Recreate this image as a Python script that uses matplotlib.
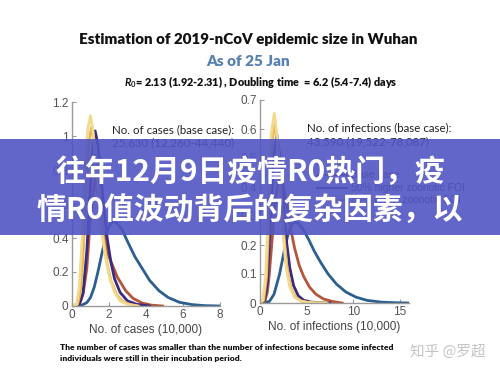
import matplotlib
matplotlib.use("Agg")
import matplotlib.pyplot as plt
from matplotlib.patches import Rectangle
from matplotlib.lines import Line2D

plt.rcParams['font.family'] = ['Liberation Sans', 'DejaVu Sans']
plt.rcParams['mathtext.fontset'] = 'custom'
plt.rcParams['mathtext.it'] = 'Lato:italic:bold'
plt.rcParams['mathtext.rm'] = 'Lato:bold'

# ---- data (x in units of 10,000) ----
# left panel: number of cases
cases_pale_x = [0, 0.25, 0.4, 0.55, 0.7, 0.85, 1.0, 1.15, 1.3, 1.45, 1.65, 1.85, 2.05, 2.3, 2.6, 3.0, 3.5]
cases_pale_y = [0, 0.01, 0.12, 0.4, 0.78, 1.04, 1.12, 1.02, 0.82, 0.6, 0.4, 0.26, 0.16, 0.08, 0.03, 0.01, 0]
cases_gold_x = [0, 0.3, 0.45, 0.6, 0.75, 0.9, 1.05, 1.2, 1.35, 1.5, 1.7, 1.9, 2.1, 2.4, 2.7, 3.1, 3.6]
cases_gold_y = [0, 0.01, 0.08, 0.3, 0.65, 0.95, 1.05, 0.97, 0.8, 0.6, 0.4, 0.25, 0.15, 0.07, 0.03, 0.01, 0]
cases_indigo_x = [0, 0.4, 0.6, 0.8, 0.95, 1.1, 1.25, 1.4, 1.55, 1.7, 1.9, 2.1, 2.3, 2.6, 3.0, 3.5, 4.2]
cases_indigo_y = [0, 0.01, 0.08, 0.32, 0.62, 0.9, 1.03, 0.95, 0.78, 0.6, 0.4, 0.26, 0.16, 0.08, 0.03, 0.01, 0]
cases_red_x = [0, 0.4, 0.6, 0.8, 1.0, 1.25, 1.45, 1.7, 2.0, 2.45, 2.9, 3.3, 3.8, 4.3, 4.9]
cases_red_y = [0, 0.01, 0.07, 0.22, 0.52, 0.76, 0.62, 0.42, 0.29, 0.17, 0.09, 0.045, 0.017, 0.005, 0]
cases_blue_x = [0, 0.5, 0.8, 1.0, 1.2, 1.4, 1.6, 1.8, 2.0, 2.2, 2.4, 2.7, 3.0, 3.4, 3.8, 4.2,
                4.7, 5.2, 5.8, 6.5, 7.2, 8.0]
cases_blue_y = [0, 0.003, 0.02, 0.05, 0.11, 0.2, 0.3, 0.4, 0.47, 0.5, 0.49, 0.45, 0.38, 0.29, 0.22, 0.15,
                0.09, 0.05, 0.022, 0.008, 0.002, 0]

# right panel: number of infections
inf_pale_x = [0, 0.3, 0.6, 0.9, 1.2, 1.53, 1.85, 2.2, 2.5, 2.8, 3.2, 3.7, 4.3, 5.0, 6.0, 7.0]
inf_pale_y = [0, 0.01, 0.09, 0.33, 0.58, 0.654, 0.57, 0.38, 0.23, 0.12, 0.055, 0.02, 0.007, 0.002, 0.0005, 0]
inf_gold_x = [0, 0.4, 0.7, 1.0, 1.3, 1.6, 1.95, 2.3, 2.6, 2.9, 3.3, 3.8, 4.4, 5.2, 6.2, 7.2]
inf_gold_y = [0, 0.01, 0.09, 0.33, 0.56, 0.62, 0.53, 0.36, 0.22, 0.12, 0.055, 0.02, 0.007, 0.002, 0.0005, 0]
inf_indigo_x = [0, 0.5, 0.8, 1.1, 1.45, 1.8, 2.15, 2.5, 2.85, 3.2, 3.6, 4.1, 4.7, 5.5, 6.5, 7.5]
inf_indigo_y = [0, 0.01, 0.07, 0.27, 0.5, 0.58, 0.5, 0.34, 0.21, 0.12, 0.06, 0.025, 0.009, 0.003, 0.001, 0]
inf_red_x = [0, 0.5, 0.8, 1.0, 1.3, 1.6, 2.0, 2.4, 2.8, 3.2, 3.7, 4.2, 4.7, 5.3, 6.0, 6.8, 7.8, 8.8]
inf_red_y = [0, 0.005, 0.04, 0.1, 0.22, 0.34, 0.43, 0.42, 0.35, 0.27, 0.19, 0.13, 0.09, 0.055, 0.03,
             0.014, 0.005, 0]
inf_blue_x = [0, 1.0, 1.5, 2.1, 2.6, 3.1, 3.6, 4.1, 4.6, 5.2, 5.8, 6.5, 7.3, 8.2, 9.2, 10.3, 11.5,
              13.0, 14.5, 16.0]
inf_blue_y = [0, 0.005, 0.03, 0.1, 0.18, 0.25, 0.28, 0.275, 0.255, 0.22, 0.18, 0.14, 0.1, 0.065, 0.038,
              0.02, 0.009, 0.003, 0.001, 0]

left_xticks = [0, 2, 4, 6, 8]
left_yticks = [0, 0.2, 0.4, 0.6, 0.8, 1, 1.2]
right_xticks = [0, 5, 10, 15]
right_yticks = [0, 0.1, 0.2, 0.3, 0.4, 0.5, 0.6, 0.7]

legend_labels = ["Base case", "50% higher zoonotic FOI", "50% lower zoonotic FOI"]

c_pale = '#F2D98E'
c_gold = '#E6B654'
c_red = '#B5553B'
c_indigo = '#3B2B80'
c_blue = '#2C5F8F'

fig = plt.figure(figsize=(5, 3.74), dpi=100)
W, H = 500, 374


def px_axes(x0, x1, y_top, y_bot):
    return fig.add_axes([x0 / W, 1 - y_bot / H, (x1 - x0) / W, (y_bot - y_top) / H])


def style(ax):
    for s in ['top', 'right']:
        ax.spines[s].set_visible(False)
    for s in ['left', 'bottom']:
        ax.spines[s].set_color('#9a9a9a')
        ax.spines[s].set_linewidth(1.0)
    ax.tick_params(direction='in', length=3, width=0.8, colors='#9a9a9a',
                   labelcolor='#555555', labelsize=8.5, pad=2.5)


lw = 2.0

ax1 = px_axes(72, 220, 102, 306)
ax1.plot(cases_blue_x, cases_blue_y, color=c_blue, lw=lw)
ax1.plot(cases_red_x, cases_red_y, color=c_red, lw=lw)
ax1.plot(cases_indigo_x, cases_indigo_y, color=c_indigo, lw=lw)
ax1.plot(cases_gold_x, cases_gold_y, color=c_gold, lw=lw)
ax1.plot(cases_pale_x, cases_pale_y, color=c_pale, lw=lw)
ax1.set_xlim(0, 8)
ax1.set_ylim(0, 1.2)
ax1.set_xticks(left_xticks)
ax1.set_yticks(left_yticks)
ax1.set_yticklabels(['0', '0.2', '0.4', '0.6', '0.8', '1', '1.2'])
style(ax1)
ax1.set_xlabel('No. of cases (10,000)', fontsize=8.5, color='#444444', labelpad=2)

ax2 = px_axes(260, 409.3, 100, 303)
ax2.plot(inf_blue_x, inf_blue_y, color=c_blue, lw=lw)
ax2.plot(inf_red_x, inf_red_y, color=c_red, lw=lw)
ax2.plot(inf_indigo_x, inf_indigo_y, color=c_indigo, lw=lw)
ax2.plot(inf_gold_x, inf_gold_y, color=c_gold, lw=lw)
ax2.plot(inf_pale_x, inf_pale_y, color=c_pale, lw=lw)
ax2.set_xlim(0, 16)
ax2.set_ylim(0, 0.7)
ax2.set_xticks(right_xticks)
ax2.set_yticks(right_yticks)
ax2.set_yticklabels(['0', '0.1', '0.2', '0.3', '0.4', '0.5', '0.6', '0.7'])
style(ax2)
ax2.set_xlabel('No. of infections (10,000)', fontsize=8.5, color='#444444', labelpad=2)

# titles
fig.text(248.5 / W, 1 - 40 / H, 'Estimation of 2019-nCoV epidemic size in Wuhan',
         family='Lato', weight='heavy', fontsize=10.9, ha='center', va='center', color='#111111')
fig.text(248 / W, 1 - 61 / H, 'As of 25 Jan', family='Lato', weight='heavy', fontsize=11,
         ha='center', va='center', color='#5681B0')
fig.text(261 / W, 1 - 82 / H, '$R_0$= 2.13 (1.92-2.31) , Doubling time  = 6.2 (5.4-7.4) days',
         family='Lato', weight='heavy', fontsize=7.8, ha='center', va='center', color='#111111')

# annotations inside the panels
fig.text(112 / W, 1 - 130 / H, 'No. of cases (base case):', family='Lato', fontsize=8.3,
         ha='left', va='center', color='#222222')
fig.text(112 / W, 1 - 143 / H, '25,630 (12,260-44,440)', family='Lato', fontsize=8.3,
         ha='left', va='center', color='#222222')
fig.text(307 / W, 1 - 128 / H, 'No. of infections (base case):', family='Lato', fontsize=8.3,
         ha='left', va='center', color='#222222')
fig.text(307 / W, 1 - 142 / H, '43,590 (19,522-78,087)', family='Lato', fontsize=8.3,
         ha='left', va='center', color='#222222')

# legend drawn by hand in the right panel
for lab, col, yy in zip(legend_labels, [c_red, c_indigo, c_gold], [175, 188, 200]):
    fig.add_artist(Line2D([317 / W, 347 / W], [1 - yy / H, 1 - yy / H], color=col, lw=1.5))
    fig.text(351 / W, 1 - yy / H, lab, fontsize=7.5, ha='left', va='center', color='#333333')

# footnote
fig.text(60 / W, 1 - 348 / H,
         'The number of cases was smaller than the number of infections because some infected',
         family='Lato', weight='heavy', fontsize=6.1, ha='left', va='center', color='#111111')
fig.text(60 / W, 1 - 358 / H, 'individuals were still in their incubation period.',
         family='Lato', weight='heavy', fontsize=6.1, ha='left', va='center', color='#111111')

# overlay banner
fig.add_artist(Rectangle((0, 1 - 235 / H), 1, 96 / H, transform=fig.transFigure,
                         facecolor='#5155C2', alpha=0.9, edgecolor='none', zorder=10))
fig.text(250 / W, 1 - 172 / H, '往年12月9日疫情R0热门，疫', family=['Noto Sans CJK SC', 'DejaVu Sans'],
         weight='bold', fontsize=21.5, ha='center', va='center', color='white', zorder=11)
fig.text(250 / W, 1 - 210 / H, '情R0值波动背后的复杂因素，以', family=['Noto Sans CJK SC', 'DejaVu Sans'],
         weight='bold', fontsize=21.5, ha='center', va='center', color='white', zorder=11)

# watermark
fig.text(448 / W, 1 - 352 / H, '知乎 @罗超', family=['Noto Sans CJK SC', 'DejaVu Sans'],
         fontsize=10.5, ha='center', va='center', color='#c4c4c4', zorder=11)

fig.savefig('out.png', dpi=100)
